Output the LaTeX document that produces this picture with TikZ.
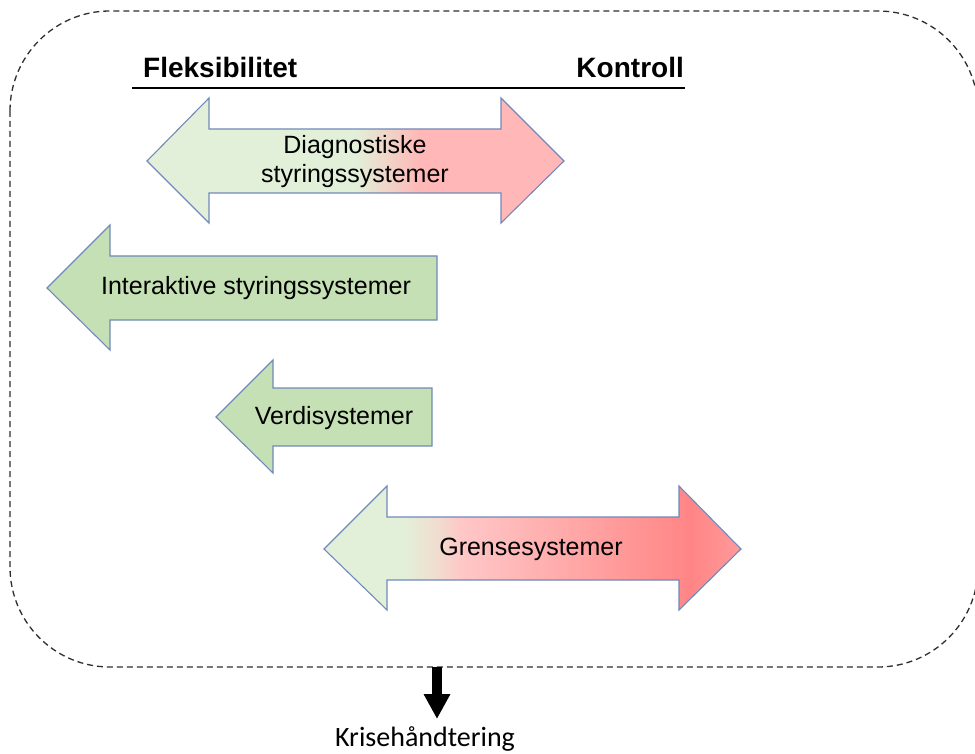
\documentclass[tikz,border=0pt]{standalone}
\usepackage{fontspec}
\setmainfont{Liberation Sans}
\newfontfamily\calibrifont{Carlito}
\usetikzlibrary{arrows.meta}

\definecolor{lgreen}{HTML}{E2F0D9}
\definecolor{mgreen}{HTML}{C5E0B4}
\definecolor{pinkA}{HTML}{FFB7B7}
\definecolor{beige}{HTML}{F0DDD0}
\definecolor{pinkB}{HTML}{FFC7C7}
\definecolor{redA}{HTML}{FF8585}
\definecolor{redB}{HTML}{FF9A9A}
\definecolor{edge}{HTML}{7189BA}
\definecolor{framegray}{HTML}{2E2E2E}

% green on the flexible side, red towards control
\pgfdeclarehorizontalshading{diagshade}{100bp}{%
  color(0bp)=(lgreen); color(25bp)=(lgreen); color(50bp)=(lgreen);
  color(57.75bp)=(pinkA); color(100bp)=(pinkA)}
\pgfdeclarehorizontalshading{grenseshade}{100bp}{%
  color(0bp)=(lgreen); color(25bp)=(lgreen); color(34.5bp)=(lgreen);
  color(38.5bp)=(beige); color(41.5bp)=(pinkB); color(69bp)=(redA);
  color(75bp)=(redB); color(100bp)=(redB)}

\tikzset{
  x=1pt, y=-1pt,
  arrowshape/.style={draw=edge, line width=1.1pt, line join=miter},
  label/.style={font=\fontsize{25}{30}\selectfont, align=center, inner sep=0pt},
  heading/.style={font=\fontsize{28}{32}\selectfont\bfseries, inner sep=0pt},
}

\begin{document}
\begin{tikzpicture}
\useasboundingbox (0,0) rectangle (975,754);

% dashed frame
\draw[framegray, line width=1.3pt, dash pattern=on 6pt off 4pt, rounded corners=100pt]
  (10,11) rectangle (978,667);

% scale headings
\node[heading, anchor=base west] (flex) at (143,78) {Fleksibilitet};
\node[heading, anchor=base east] (kontroll) at (684,78) {Kontroll};
\draw[line width=1.4pt] (132,88) -- (685,88);

% diagnostic control systems
\path[arrowshape, shading=diagshade]
  (147,161) -- (209,98) -- (209,129) -- (501,129) -- (501,98) -- (564,161)
  -- (501,223) -- (501,193) -- (209,193) -- (209,223) -- cycle;
\node[label] (diag) at (355,162) {Diagnostiske\\[-1pt]styringssystemer};

% interactive control systems
\path[arrowshape, fill=mgreen]
  (47,288) -- (110,225) -- (110,256) -- (437,256) -- (437,320)
  -- (110,320) -- (110,350) -- cycle;
\node[label] (inter) at (256,288) {Interaktive styringssystemer};

% belief systems
\path[arrowshape, fill=mgreen]
  (216,417) -- (273,360) -- (273,388) -- (432,388) -- (432,446)
  -- (273,446) -- (273,473) -- cycle;
\node[label] (verdi) at (334,418) {Verdisystemer};

% boundary systems
\path[arrowshape, shading=grenseshade]
  (324,549) -- (387,486) -- (387,517) -- (679,517) -- (679,486) -- (741,549)
  -- (679,610) -- (679,580) -- (387,580) -- (387,610) -- cycle;
\node[label] (grense) at (531,549) {Grensesystemer};

% crisis handling below the frame
\node[font=\calibrifont\fontsize{28}{32}\selectfont, inner sep=0pt, anchor=base]
  (krise) at (425,746) {Krisehåndtering};
\coordinate (kstart) at (437,667);
\draw[line width=10pt, -{Triangle[length=25pt, width=25pt]}]
  (kstart) -- (kstart |- 0,719);
\end{tikzpicture}
\end{document}
